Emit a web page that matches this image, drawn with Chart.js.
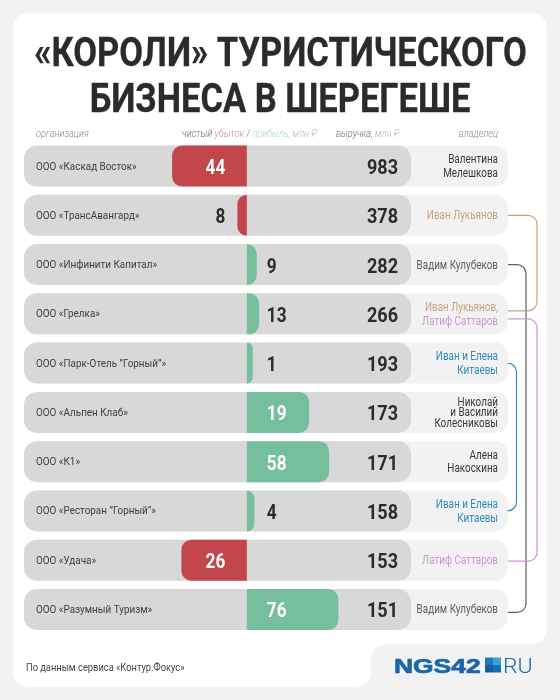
<!DOCTYPE html>
<html lang="ru">
<head>
<meta charset="utf-8">
<title>«Короли» туристического бизнеса в Шерегеше</title>
<script src="https://cdn.jsdelivr.net/npm/chart.js@4/dist/chart.umd.js"></script>
<style>
html,body{margin:0;padding:0;background:#f2f2f2;}
canvas{display:block;}
</style>
</head>
<body>
<canvas id="c" width="560" height="700"></canvas>
<script>
const titleLines = ['«КОРОЛИ» ТУРИСТИЧЕСКОГО', 'БИЗНЕСА В ШЕРЕГЕШЕ'];
const companies = ['ООО «Каскад Восток»','ООО «ТрансАвангард»','ООО «Инфинити Капитал»','ООО «Грелка»','ООО «Парк-Отель ”Горный”»','ООО «Альпен Клаб»','ООО «К1»','ООО «Ресторан ”Горный”»','ООО «Удача»','ООО «Разумный Туризм»'];
const netResult = [-44,-8,9,13,1,19,58,4,-26,76];
const revenue = [983,378,282,266,193,173,171,158,153,151];
const owners = [
  ['Валентина','Мелешкова'],['Иван Лукьянов'],['Вадим Кулубеков'],['Иван Лукьянов,','Латиф Саттаров'],
  ['Иван и Елена','Китаевы'],['Николай','и Василий','Колесниковы'],['Алена','Накоскина'],
  ['Иван и Елена','Китаевы'],['Латиф Саттаров'],['Вадим Кулубеков']
];
const ownerKeys = [['dark','dark'],['ivan'],['vadim'],['ivan','latif'],['kitaev','kitaev'],['dark','dark','dark'],['dark','dark'],['kitaev','kitaev'],['latif'],['vadim']];
// The reference's profit axis is not linear: each value maps to these drawn lengths.
const axisValues = [0,1,4,8,9,13,19,26,44,58,76];
const axisLengths = [0,6,7.6,9.4,10,12.3,62.3,65.4,74.7,82.3,91.6];
const ownerLinks = [['vadim',2,9],['latif',3,8],['ivan',1,3],['kitaev',4,7]];

const COL = {dark:'#3a3a3a',ivan:'#c8a27e',vadim:'#5f5f5f',latif:'#c79ad0',kitaev:'#2c8cc4',
  loss:'#c2464c',profit:'#76bf9e',track:'#d8d8d8',panel:'#f2f2f2',ink:'#2b2b2b'};
const LINK_OFFSET = {ivan:[0,-3],vadim:[0,3],latif:[5,1],kitaev:[0,0]};
const LINK_X = {ivan:537,vadim:526,latif:537,kitaev:516.5};
const COND = '"Roboto"';

function txt(ctx,s,x,y,o){
  ctx.save();
  ctx.font=(o.style||'')+' '+(o.weight||400)+' '+o.size+'px '+(o.family||COND);
  ctx.fillStyle=o.color;ctx.textBaseline='alphabetic';ctx.textAlign='left';
  const sx=o.sx||1, w=ctx.measureText(s).width*sx;
  const lx=o.align==='right'?x-w:o.align==='center'?x-w/2:x;
  ctx.translate(lx,y);ctx.scale(sx,1);
  if(o.stroke){ctx.strokeStyle=o.color;ctx.lineWidth=o.stroke;ctx.lineJoin='round';ctx.strokeText(s,0,0);}
  ctx.fillText(s,0,0);
  ctx.restore();
  return w;
}
function run(ctx,parts,x,y,o){parts.forEach(p=>{x+=txt(ctx,p[0],x,y,Object.assign({},o,{color:p[1]}));});}

function reach(v){
  const a=Math.abs(v);
  for(let i=1;i<axisValues.length;i++){
    if(a<=axisValues[i]){
      const t=(a-axisValues[i-1])/(axisValues[i]-axisValues[i-1]);
      return axisLengths[i-1]+t*(axisLengths[i]-axisLengths[i-1]);
    }
  }
  return axisLengths[axisLengths.length-1];
}
const ZERO_FROM_LEFT = 222.8;
class ReachScale extends Chart.LinearScale{
  static id='reach';
  static defaults=Chart.LinearScale.defaults;
  getPixelForValue(v){return this.left+ZERO_FROM_LEFT+Math.sign(v)*reach(v);}
}
Chart.register(ReachScale);

Chart.BarElement.prototype.draw=function(ctx){
  const x=this.x,base=this.base,h=this.height,y=this.y;
  const l=Math.min(x,base),w=Math.abs(x-base),r=Math.min(10,w);
  ctx.save();ctx.fillStyle=this.options.backgroundColor;ctx.beginPath();
  ctx.roundRect(l,y-h/2,w,h,x<base?[r,0,0,r]:[0,r,r,0]);ctx.fill();ctx.restore();
};

const backdrop={id:'backdrop',beforeDatasetsDraw(chart){
  const c=chart.ctx,ca=chart.chartArea,y=chart.scales.y;
  // white card with a notch for the logo
  c.save();c.fillStyle='#fff';c.beginPath();
  const L=13,T=13.5,R=547,B=687,NX=371,NY=644,r=15;
  c.moveTo(L+r,T);c.arcTo(R,T,R,NY,r);c.arcTo(R,NY,NX,NY,r);c.arcTo(NX,NY,NX,B,r);c.arcTo(NX,B,L,B,r);c.arcTo(L,B,L,T,r);c.arcTo(L,T,R,T,r);c.closePath();c.fill();
  companies.forEach((_,i)=>{
    const yc=y.getPixelForValue(i),h=41;
    c.fillStyle=COL.panel;c.beginPath();c.roundRect(ca.left,yc-h/2,ca.right-ca.left,h,13);c.fill();
    c.fillStyle=COL.track;c.beginPath();c.roundRect(ca.left,yc-h/2,387,h,13);c.fill();
  });
  c.restore();
}};

const labels={id:'labels',afterDatasetsDraw(chart){
  const c=chart.ctx,y=chart.scales.y,x=chart.scales.x,zero=x.getPixelForValue(0);
  txt(c,titleLines[0],280.5,66,{size:40,weight:700,color:COL.ink,align:'center',sx:.862,stroke:.3});
  txt(c,titleLines[1],280,112,{size:40,weight:700,color:COL.ink,align:'center',sx:.862,stroke:.3});
  const h={size:10,weight:300,style:'italic',sx:.92};
  txt(c,'организация',36,137,Object.assign({color:'#8a8a8a'},h));
  run(c,[['чистый ','#6f6f6f'],['убыток','#d08a8d'],[' / ','#6f6f6f'],['прибыль,','#a9d8c3'],[' млн ₽','#b5b5b5']],182,137,h);
  run(c,[['выручка,','#6f6f6f'],[' млн ₽','#b5b5b5']],336,137,h);
  txt(c,'владелец',498,137,Object.assign({color:'#8a8a8a',align:'right'},h));
  companies.forEach((name,i)=>{
    const yc=y.getPixelForValue(i),v=netResult[i],inside=Math.abs(v)>=19;
    txt(c,name,36,yc+3.5,{size:11.5,color:'#3d3d3d',sx:.86});
    const n=String(Math.abs(v));
    const o={size:20,weight:700,sx:.86,color:inside?'#fff':COL.ink};
    if(v<0)txt(c,n,zero-21.5,yc+8,Object.assign({align:'right'},o));
    else txt(c,n,zero+20,yc+8,o);
    txt(c,String(revenue[i]),398,yc+8,{size:21,weight:700,sx:.86,color:COL.ink,align:'right'});
    const ls=owners[i],lead=ls.length>2?10.8:13.6,top=yc-(ls.length-1)*lead/2+4;
    ls.forEach((s,k)=>txt(c,s,498,top+k*lead,{size:12,sx:.825,color:COL[ownerKeys[i][k]],align:'right'}));
  });
  txt(c,'По данным сервиса «Контур.Фокус»',26,671,{size:10,color:'#444',sx:.93});
  // connectors
  ownerLinks.forEach(([k,a,b])=>{
    const ya=y.getPixelForValue(a)+LINK_OFFSET[k][0],yb=y.getPixelForValue(b)+LINK_OFFSET[k][1],X=LINK_X[k],r=9;
    c.save();c.strokeStyle=COL[k];c.lineWidth=1.2;c.beginPath();c.moveTo(508,ya);c.arcTo(X,ya,X,yb,r);c.arcTo(X,yb,508,yb,r);c.lineTo(508,yb);c.stroke();c.restore();
  });
  // logo
  const blue='#1a66a8';
  txt(c,'NGS42',394,672.5,{size:20,weight:700,family:'"Liberation Sans"',color:blue,sx:1.32,stroke:.7});
  [[485,657.5,8,7.5,'#1f79bd'],[493,657.5,8,7.5,'#3f9ede'],[485,665,8,7.5,'#155f9e'],[493,665,8,7.5,'#1a6fb3']].forEach(q=>{c.fillStyle=q[4];c.fillRect(q[0],q[1],q[2],q[3]);});
  txt(c,'RU',503,672.5,{size:20,weight:300,color:blue,sx:1.15});
}};

new Chart(document.getElementById('c'),{
  type:'bar',
  data:{labels:companies,datasets:[{label:'чистый убыток / прибыль, млн ₽',data:netResult,
    backgroundColor:netResult.map(v=>v<0?COL.loss:COL.profit),barThickness:41,borderWidth:0}]},
  options:{
    indexAxis:'y',responsive:false,animation:false,devicePixelRatio:1,
    layout:{padding:{left:24,right:52,top:141.4,bottom:65.9}},
    plugins:{legend:{display:false},tooltip:{enabled:false},title:{display:false}},
    scales:{
      x:{type:'reach',min:-223,max:261,display:false,grid:{display:false}},
      y:{type:'category',display:false,grid:{display:false}}
    }
  },
  plugins:[backdrop,labels]
});
</script>
</body>
</html>
